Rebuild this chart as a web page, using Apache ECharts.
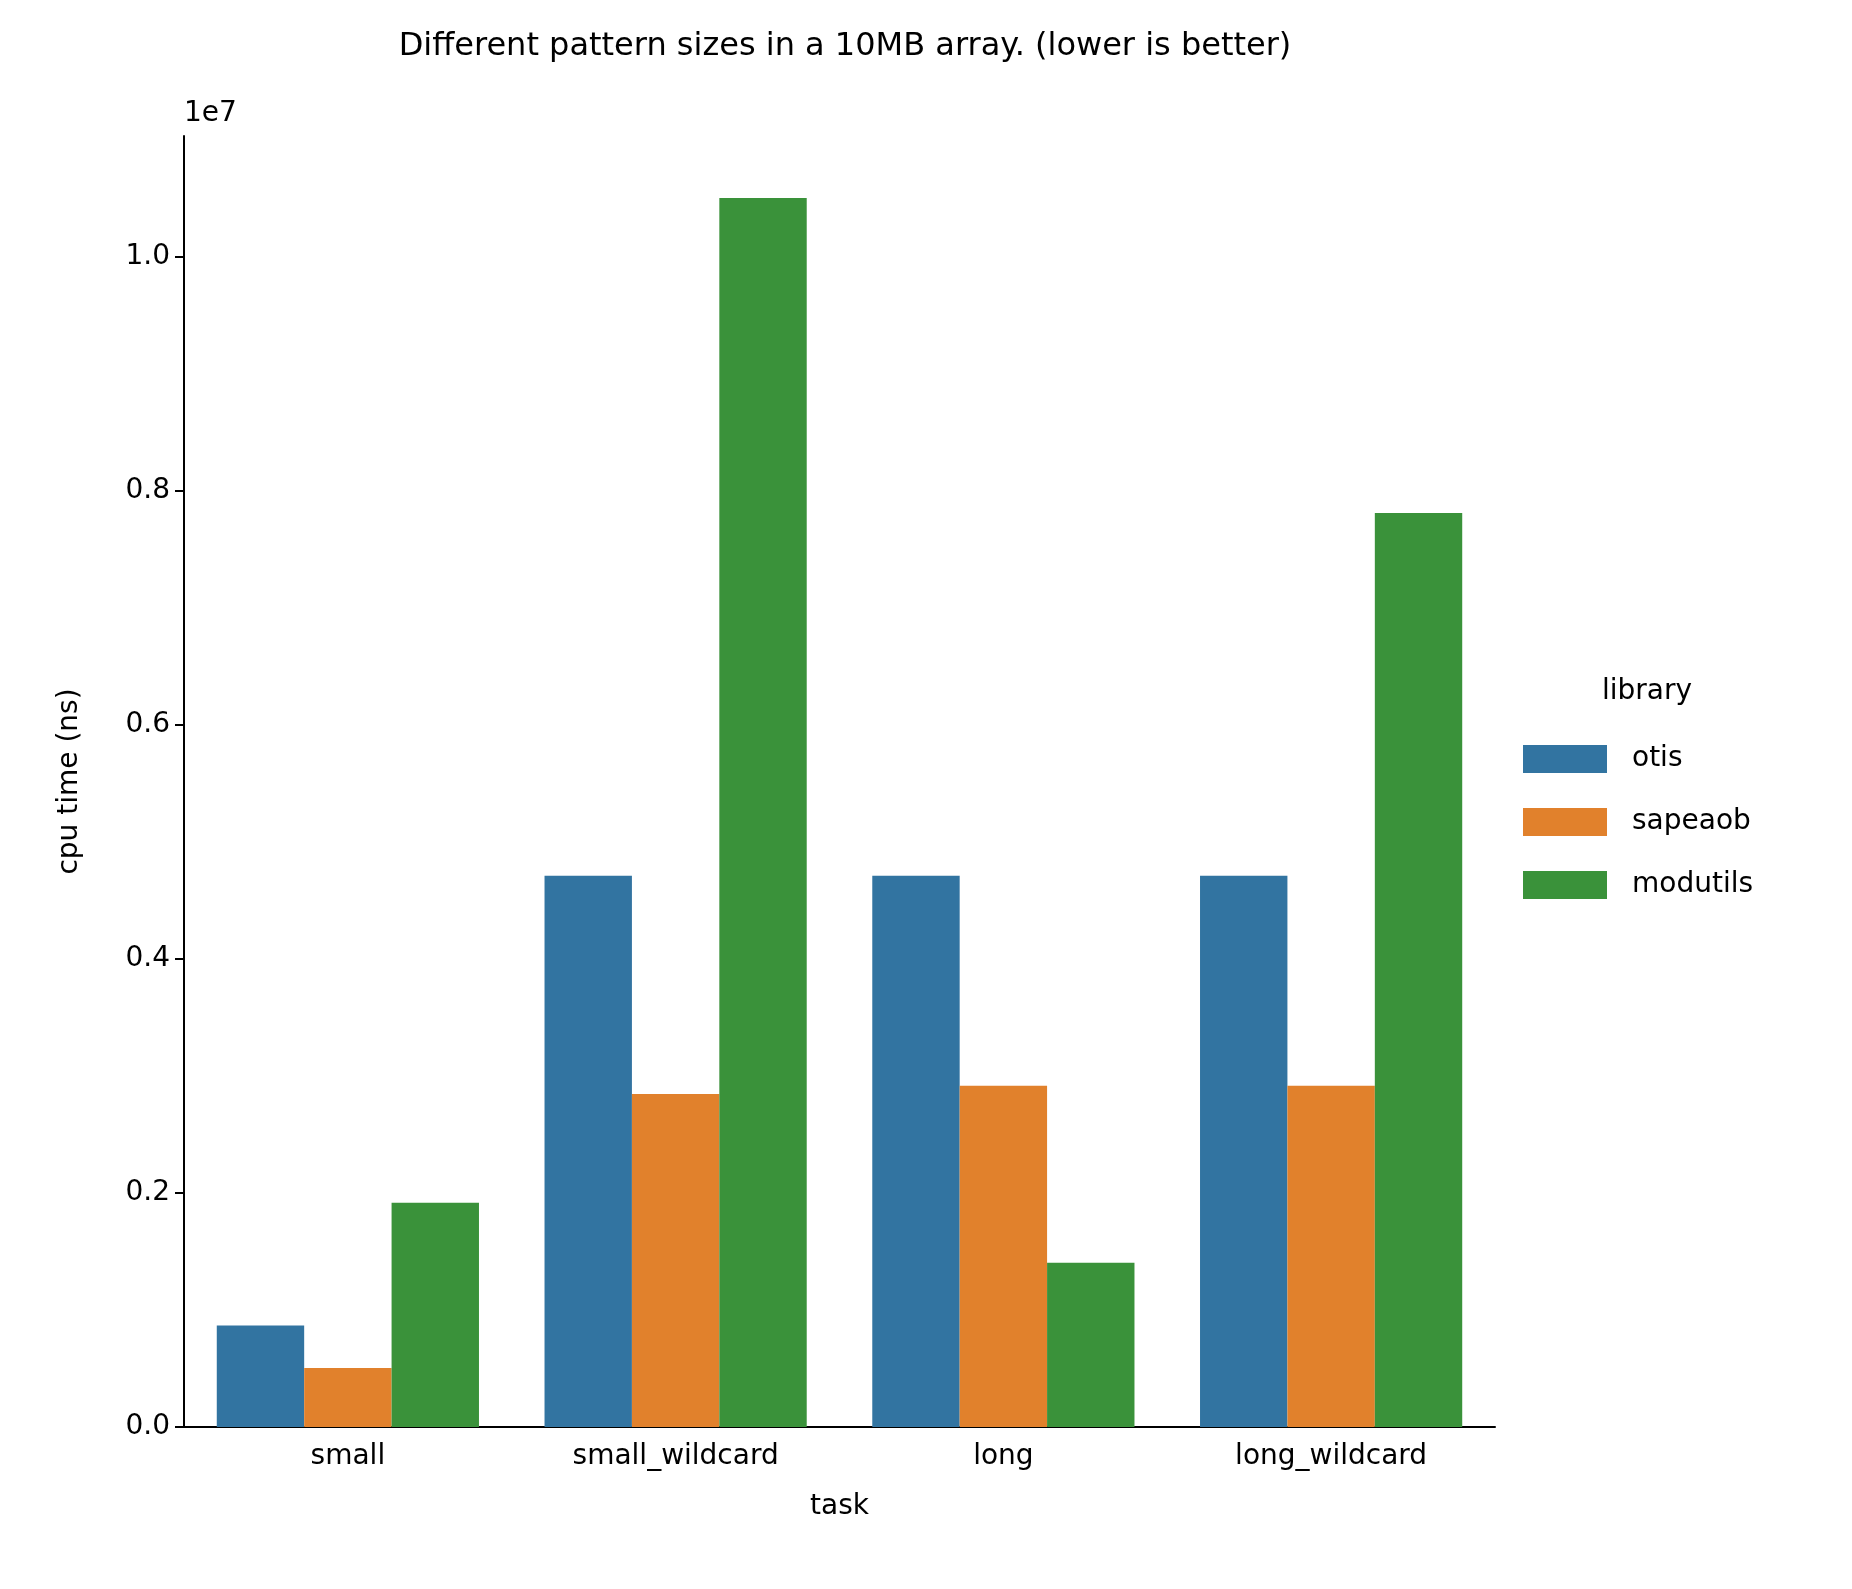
<!DOCTYPE html>
<html>
<head>
<meta charset="utf-8">
<script src="https://cdn.jsdelivr.net/npm/echarts@6/dist/echarts.min.js"></script>
<style>html,body{margin:0;padding:0;background:#fff}#c{width:1852px;height:1589px}</style>
</head>
<body>
<div id="c"></div>
<script>
var tasks = ['small', 'small_wildcard', 'long', 'long_wildcard'];
var otis = [868000, 4710000, 4710000, 4710000];
var sapeaob = [505000, 2846000, 2916000, 2916000];
var modutils = [1917000, 10500000, 1403000, 7810000];
var colors = ['#3274a1', '#e1812c', '#3a923a'];
var font = 'DejaVu Sans';

var chart = echarts.init(document.getElementById('c'));
function bar(name, data) {
  return {
    name: name, type: 'bar', data: data,
    barGap: '0%', barCategoryGap: '20%'
  };
}
chart.setOption({
  animation: false,
  color: colors,
  textStyle: { fontFamily: font, color: '#000' },
  title: {
    text: 'Different pattern sizes in a 10MB array. (lower is better)',
    left: 840, top: 26, textAlign: 'center',
    textStyle: { fontFamily: font, fontWeight: 'normal', fontSize: 32, color: '#000' }
  },
  grid: { left: 184, right: 357, top: 136, bottom: 162 },
  legend: {
    orient: 'vertical', left: 1518, top: 740,
    itemWidth: 84, itemHeight: 28, itemGap: 35,
    icon: 'rect',
    textStyle: { fontFamily: font, fontSize: 28, color: '#000', padding: [0, 0, 0, 20] },
    data: ['otis', 'sapeaob', 'modutils']
  },
  graphic: [
    { type: 'text', left: 1602, top: 678,
      style: { text: 'library', fontFamily: font, fontSize: 28, fill: '#000' } },
    { type: 'text', left: 184, top: 100,
      style: { text: '1e7', fontFamily: font, fontSize: 28, fill: '#000' } }
  ],
  xAxis: {
    type: 'category', data: tasks,
    name: 'task', nameLocation: 'middle', nameGap: 66,
    nameTextStyle: { fontFamily: font, fontSize: 28, color: '#000' },
    axisLine: { lineStyle: { color: '#000', width: 2 } },
    axisTick: { alignWithLabel: true, length: 9, lineStyle: { color: '#000', width: 2 } },
    axisLabel: { fontFamily: font, fontSize: 28, color: '#000', margin: 16 }
  },
  yAxis: {
    type: 'value', min: 0, max: 11030000, interval: 2000000,
    name: 'cpu time (ns)', nameLocation: 'middle', nameGap: 100,
    nameTextStyle: { fontFamily: font, fontSize: 28, color: '#000' },
    axisLine: { show: true, lineStyle: { color: '#000', width: 2 } },
    axisTick: { show: true, length: 9, lineStyle: { color: '#000', width: 2 } },
    splitLine: { show: false },
    axisLabel: {
      fontFamily: font, fontSize: 28, color: '#000', margin: 14, showMaxLabel: false,
      formatter: function (v) { return (v / 1e7).toFixed(1); }
    }
  },
  series: [bar('otis', otis), bar('sapeaob', sapeaob), bar('modutils', modutils)]
});
</script>
</body>
</html>
